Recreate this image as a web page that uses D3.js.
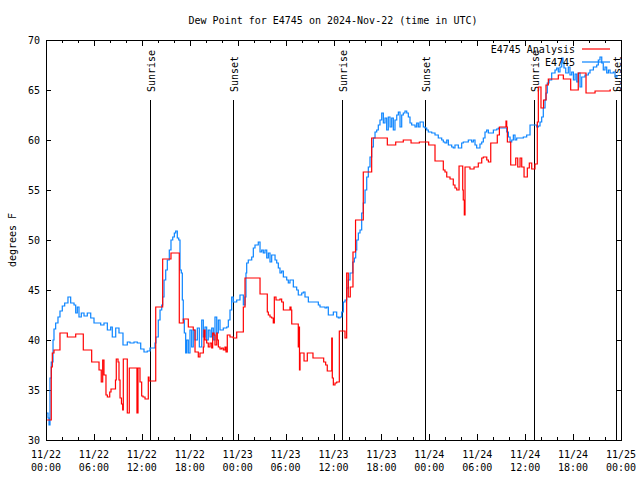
<!DOCTYPE html>
<html><head><meta charset="utf-8">
<script src="https://cdn.jsdelivr.net/npm/d3@7"></script>
<style>
html,body{margin:0;padding:0;background:#fff;}
text{font-family:"DejaVu Sans Mono","Liberation Mono",monospace;font-size:10px;fill:#000;}
</style></head>
<body>
<svg id="chart" width="640" height="480"></svg>
<script>
// ---- data (hours after 2024-11-22 00:00 UTC) ----
const title = "Dew Point for E4745 on 2024-Nov-22 (time in UTC)";
const yLabel = "degrees F";
const yTicks = [30, 35, 40, 45, 50, 55, 60, 65, 70];
const sunriseHours = [13.07, 37.10, 61.15];
const sunsetHours = [23.45, 47.50, 71.42];
const seriesNames = ["E4745 Analysis", "E4745"];

const analysisHours = [0.13,0.66,0.79,1.00,1.75,2.67,3.72,4.67,5.72,6.64,6.92,7.10,7.26,7.51,7.68,7.98,8.14,8.70,8.80,9.02,9.14,9.27,9.45,9.60,9.68,10.18,10.43,11.39,11.52,11.77,11.98,12.15,12.40,12.81,12.90,13.74,14.61,15.65,16.69,17.19,17.82,18.44,18.66,19.07,19.28,19.70,19.78,19.91,20.12,20.32,20.54,20.75,20.87,21.04,21.16,21.38,21.45,21.58,21.79,22.00,22.20,22.41,22.54,22.70,23.04,23.45,23.88,24.71,24.92,26.80,27.71,27.84,28.05,28.26,28.46,28.59,28.80,29.30,29.51,29.72,30.55,30.68,30.77,31.59,31.68,31.74,31.81,32.31,32.72,33.43,34.77,35.02,35.22,35.78,35.85,35.98,36.19,36.40,36.73,37.44,37.65,37.85,38.10,38.44,38.76,39.73,40.78,42.74,43.79,44.74,45.71,46.75,47.92,48.71,49.75,49.96,50.18,50.59,51.00,51.21,51.43,51.72,52.18,52.25,52.38,52.47,53.09,53.60,54.13,54.56,54.76,55.19,55.39,55.69,56.51,56.77,57.60,57.69,57.77,58.19,58.82,59.07,59.36,59.57,59.86,60.27,60.52,60.82,61.23,61.52,61.65,61.98,62.30,62.61,62.90,64.15,64.78,65.70,66.65,67.62,68.75,70.63,70.75];
const analysisValues = [32.0,37.3,38.7,39.0,40.7,40.3,40.6,39.0,37.8,37.0,35.8,38.0,36.5,34.5,34.3,34.8,35.1,36.0,38.1,37.8,36.0,34.2,33.6,33.0,38.1,32.7,37.2,32.7,37.2,35.8,34.4,34.3,34.1,36.3,35.9,43.3,48.1,48.7,41.7,42.1,41.3,41.0,38.8,38.3,38.7,39.3,41.0,40.0,39.7,39.3,39.7,39.2,40.7,40.5,39.5,40.7,40.0,39.3,39.1,39.2,39.0,39.3,38.8,40.5,40.3,40.2,40.8,43.3,46.2,44.6,42.8,42.5,42.3,42.2,41.7,44.3,44.0,44.1,43.8,43.0,43.3,43.0,41.6,39.3,41.3,37.0,38.7,37.9,38.7,38.2,37.8,37.5,36.9,40.2,36.2,35.5,35.7,35.8,40.9,40.2,46.7,44.3,45.3,48.8,52.0,56.8,60.2,59.5,59.8,60.0,59.7,59.8,59.5,57.9,57.0,56.8,56.3,56.1,55.5,55.2,55.0,57.4,55.0,54.0,52.5,57.3,57.1,57.3,57.7,58.2,58.3,58.0,57.8,59.7,60.5,61.3,61.9,61.3,59.8,57.5,58.2,57.3,58.2,57.3,56.3,57.2,57.7,57.1,57.6,61.8,65.3,63.2,64.0,65.5,66.1,66.5,66.1,65.0,66.7,64.7,64.9,65.0,65.0];

const obsHours = [0.09,0.25,0.38,0.50,0.66,0.88,1.00,1.21,1.50,1.75,2.04,2.34,2.75,3.09,3.51,3.72,3.92,4.13,4.42,4.76,5.17,5.60,6.01,6.42,6.85,7.26,7.68,8.10,8.30,8.73,9.14,9.43,9.64,10.18,10.52,11.02,11.43,11.86,12.27,12.68,13.02,13.44,13.65,13.77,14.06,14.28,14.49,14.61,14.78,14.99,15.19,15.44,15.65,15.87,16.07,16.24,16.44,16.62,16.78,16.94,17.07,17.19,17.32,17.49,17.62,17.82,18.03,18.24,18.44,18.66,18.95,19.20,19.50,19.70,19.91,20.12,20.32,20.54,20.75,20.95,21.16,21.38,21.58,21.79,22.20,22.63,22.83,23.04,23.25,23.45,23.88,24.29,24.71,24.92,25.04,25.13,25.33,25.76,25.96,26.17,26.58,26.80,27.01,27.21,27.42,27.64,27.84,28.05,28.26,28.68,28.89,29.09,29.30,29.51,29.72,30.14,30.34,30.55,30.97,31.39,31.59,32.02,32.22,32.43,32.85,33.90,34.10,34.31,34.94,35.15,35.35,35.98,36.40,36.60,36.81,37.03,37.23,37.44,37.65,37.85,38.07,38.41,38.61,38.78,38.91,39.11,39.32,39.53,39.73,39.95,40.16,40.36,40.57,40.78,40.99,41.20,41.41,41.61,41.82,42.04,42.24,42.45,42.66,42.86,43.08,43.29,43.49,43.70,43.92,44.12,44.33,44.54,44.74,44.95,45.17,45.37,45.58,45.79,46.21,46.42,46.62,46.83,47.25,47.46,47.67,47.87,48.30,48.71,49.12,49.55,49.75,49.96,50.18,50.38,50.80,51.00,51.21,51.63,52.05,52.25,52.88,53.30,53.51,53.72,53.93,54.34,54.56,54.76,54.97,55.18,55.39,55.81,56.02,56.44,56.64,57.27,57.69,57.90,58.11,58.32,58.52,58.73,58.94,59.36,59.77,60.19,60.61,61.02,61.45,61.65,61.86,62.07,62.27,62.49,62.61,62.77,62.99,63.32,63.74,63.95,64.15,64.36,64.58,64.74,64.86,65.08,65.40,65.61,65.83,66.04,66.25,66.46,66.65,66.87,67.08,67.49,67.91,68.12,68.54,68.96,69.16,69.37,69.59,69.78,70.00,70.21,70.42,70.63,71.04,71.25,71.50];
const obsValues = [32.7,32.2,31.5,36.2,37.8,40.0,41.1,41.7,42.3,42.9,43.4,43.7,44.3,43.7,43.5,42.7,43.3,42.3,42.7,42.4,42.7,42.2,41.7,41.7,41.5,41.7,41.0,41.3,40.3,41.2,40.7,40.7,39.5,39.8,39.7,39.8,39.7,39.1,38.8,38.9,39.2,39.2,39.7,40.3,42.0,43.0,43.5,44.3,46.0,47.0,48.0,49.0,50.0,50.3,50.7,50.9,50.2,50.0,47.0,46.7,44.0,42.0,40.7,38.7,40.0,38.7,41.0,39.3,41.0,40.0,41.2,39.3,42.0,40.3,41.3,40.0,41.0,40.3,41.2,40.0,42.3,40.7,42.0,41.0,41.2,41.3,42.0,43.0,44.3,43.8,44.0,44.5,43.5,44.3,46.7,47.7,48.0,48.3,49.2,49.5,49.8,48.8,49.0,48.7,49.0,48.2,48.7,47.8,48.5,48.0,47.7,47.2,46.7,46.9,46.3,46.0,45.7,46.0,45.3,45.0,44.5,44.7,44.8,44.3,43.8,43.8,43.5,43.3,43.2,43.3,42.5,42.8,42.3,42.2,42.3,42.8,43.8,44.0,45.2,46.0,46.7,47.8,48.2,49.0,50.0,50.7,51.0,52.7,53.7,55.0,56.3,57.3,58.3,59.3,60.2,60.8,61.0,61.5,62.0,62.7,61.7,62.2,61.0,62.3,61.3,62.2,61.0,62.0,62.5,62.8,61.3,62.5,62.7,62.9,62.7,62.3,61.7,61.5,61.3,61.7,61.3,61.8,61.3,61.2,61.0,60.8,60.7,60.5,60.2,60.0,59.8,59.7,60.0,59.5,59.3,59.2,59.5,59.2,59.7,59.8,60.0,59.8,60.0,59.5,59.2,59.6,59.8,60.2,60.8,61.0,60.7,60.7,61.0,61.1,61.2,61.2,60.8,60.3,59.8,60.0,60.5,60.0,60.2,60.2,60.3,60.5,61.5,61.5,61.3,61.4,61.8,62.3,63.2,64.0,64.7,65.7,66.0,66.7,67.0,67.2,66.8,67.3,68.2,67.7,67.2,66.7,67.3,66.5,66.8,66.0,66.6,65.8,66.7,65.3,66.3,66.5,66.7,67.0,67.3,67.5,68.0,68.3,67.7,67.0,67.3,66.7,67.0,66.7,66.8,66.3,66.5];

// ---- chart ----
const t0 = Date.UTC(2024, 10, 22);
const toDate = h => new Date(t0 + h * 3600e3);
const m = {left: 46, right: 621, top: 40, bottom: 440};
const svg = d3.select("#chart");

const x = d3.scaleUtc().domain([toDate(0), toDate(72)]).range([m.left, m.right]);
const y = d3.scaleLinear().domain([30, 70]).range([m.bottom, m.top]);

const analysis = analysisHours.map((h, i) => ({t: toDate(h), v: analysisValues[i]}));
const obs = obsHours.map((h, i) => ({t: toDate(h), v: obsValues[i]}));

// title
svg.append("text").attr("x", 333).attr("y", 24).attr("text-anchor", "middle").text(title);
// y label
svg.append("text").attr("transform", "translate(16,240) rotate(-90)").attr("text-anchor", "middle").text(yLabel);

// ticks
const majorX = x.ticks(d3.utcHour.every(6));
const minorX = x.ticks(d3.utcHour.every(2));
const axes = svg.append("g").attr("stroke", "#000").attr("stroke-width", 1).attr("shape-rendering", "crispEdges");
minorX.forEach(d => {
  const xx = Math.round(x(d)) + 0.5;
  const len = (d.getUTCHours() % 6 === 0) ? 6 : 3;
  axes.append("line").attr("x1", xx).attr("x2", xx).attr("y1", m.bottom).attr("y2", m.bottom - len);
  axes.append("line").attr("x1", xx).attr("x2", xx).attr("y1", m.top).attr("y2", m.top + len);
});
yTicks.forEach(v => {
  const yy = Math.round(y(v)) + 0.5;
  axes.append("line").attr("x1", m.left).attr("x2", m.left + 5).attr("y1", yy).attr("y2", yy);
  axes.append("line").attr("x1", m.right).attr("x2", m.right - 5).attr("y1", yy).attr("y2", yy);
});

// tick labels
const fmtDay = d3.utcFormat("%m/%d"), fmtTime = d3.utcFormat("%H:%M");
majorX.forEach(d => {
  const t = svg.append("text").attr("text-anchor", "middle");
  t.append("tspan").attr("x", x(d)).attr("y", 458).text(fmtDay(d));
  t.append("tspan").attr("x", x(d)).attr("y", 471).text(fmtTime(d));
});
yTicks.forEach(v => {
  svg.append("text").attr("x", 40).attr("y", y(v) + 4).attr("text-anchor", "end").text(v);
});

// sunrise / sunset markers
const events = sunriseHours.map(h => ({h, label: "Sunrise"})).concat(sunsetHours.map(h => ({h, label: "Sunset"})));
events.forEach(e => {
  const xx = Math.round(x(toDate(e.h))) + 0.5;
  svg.append("line").attr("x1", xx).attr("x2", xx).attr("y1", 100).attr("y2", m.bottom)
    .attr("stroke", "#000").attr("stroke-width", 1).attr("shape-rendering", "crispEdges");
  svg.append("text").attr("transform", `translate(${xx + 4},92) rotate(-90)`).attr("text-anchor", "start").text(e.label);
});

// series
const line = d3.line().x(d => x(d.t)).y(d => y(d.v)).curve(d3.curveStepAfter);
svg.append("path").datum(obs).attr("d", line).attr("fill", "none").attr("stroke", "#0a84ff").attr("stroke-width", 1.2);
svg.append("path").datum(analysis).attr("d", line).attr("fill", "none").attr("stroke", "#ff0000").attr("stroke-width", 1.2);

// frame
svg.append("rect").attr("x", m.left + 0.5).attr("y", m.top + 0.5).attr("width", m.right - m.left).attr("height", m.bottom - m.top)
  .attr("fill", "none").attr("stroke", "#000").attr("shape-rendering", "crispEdges");

// legend
const legColors = ["#ff0000", "#0a84ff"];
seriesNames.forEach((n, i) => {
  const by = 53 + i * 13;
  svg.append("text").attr("x", 575).attr("y", by).attr("text-anchor", "end").text(n);
  svg.append("line").attr("x1", 582).attr("x2", 610).attr("y1", by - 4).attr("y2", by - 4)
    .attr("stroke", legColors[i]).attr("stroke-width", 1.2);
});
</script>
</body></html>
